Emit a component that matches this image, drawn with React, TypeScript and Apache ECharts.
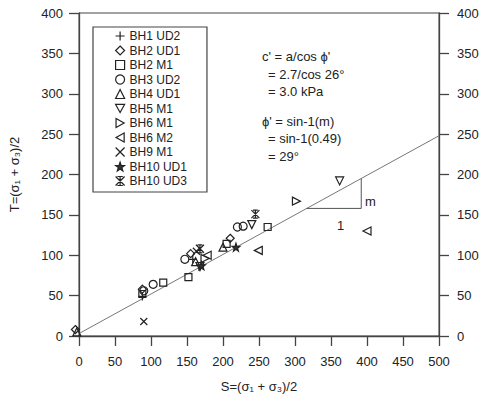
import React, { useEffect, useRef } from "react";
import * as echarts from "echarts";

const xTicks = { min: 0, max: 500, interval: 50 };
const yTicks = { min: 0, max: 400, interval: 50 };

const seriesNames = [
  "BH1 UD2",
  "BH2 UD1",
  "BH2 M1",
  "BH3 UD2",
  "BH4 UD1",
  "BH5 M1",
  "BH6 M1",
  "BH6 M2",
  "BH9 M1",
  "BH10 UD1",
  "BH10 UD3",
];

const bh1UD2 = [[88, 49], [158, 95]];
const bh2UD1 = [[-5, 8], [88, 58], [155, 102], [210, 121]];
const bh2M1 = [[88, 52], [117, 66], [152, 73], [205, 114], [262, 135]];
const bh3UD2 = [[90, 56], [103, 64], [147, 95], [220, 135], [228, 136]];
const bh4UD1 = [[-3, 5], [162, 92], [200, 110]];
const bh5M1 = [[168, 86], [240, 138], [362, 192]];
const bh6M1 = [[175, 96], [302, 167]];
const bh6M2 = [[178, 100], [249, 106], [400, 130]];
const bh9M1 = [[90, 18], [163, 105]];
const bh10UD1 = [[170, 87], [218, 110]];
const bh10UD3 = [[168, 108], [245, 151]];

const fitLine = [[0, 3], [500, 248]];
const slopeTriangle = [[316, 158], [392, 158], [392, 195]];

const annotationLines = [
  "c' = a/cos \u03d5'",
  "= 2.7/cos 26\u00b0",
  "= 3.0 kPa",
  "\u03d5' = sin-1(m)",
  "= sin-1(0.49)",
  "= 29\u00b0",
];

const seriesData = [bh1UD2, bh2UD1, bh2M1, bh3UD2, bh4UD1, bh5M1, bh6M1, bh6M2, bh9M1, bh10UD1, bh10UD3];

const symbols = [
  "path://M5,0L5,10M0,5L10,5",
  "diamond",
  "rect",
  "circle",
  "triangle",
  "path://M0,0L10,0L5,9Z",
  "path://M0,0L9,5L0,10Z",
  "path://M9,0L0,5L9,10Z",
  "path://M0,0L10,10M10,0L0,10",
  "path://M5,0L6.2,3.6L10,3.8L7,6.1L8.1,9.8L5,7.6L1.9,9.8L3,6.1L0,3.8L3.8,3.6Z",
  "path://M0,0L10,10M10,0L0,10M5,0L5,10M2,0L8,0M2,10L8,10",
];

const symbolSizes = [8, 8, 7, 8, 8, 8, 8, 8, 7, 8, 8];

export default function App() {
  const ref = useRef<HTMLDivElement>(null);

  useEffect(() => {
    if (!ref.current) return;
    const chart = echarts.init(ref.current, undefined, { renderer: "svg" });
    const font = "Liberation Sans, Arial, sans-serif";
    const ink = "#222";

    const scatterSeries = seriesNames.map((name, i) => ({
      name,
      type: "scatter",
      data: seriesData[i],
      symbol: symbols[i],
      symbolSize: symbolSizes[i],
      clip: false,
      itemStyle: {
        color: i === 9 ? "#333" : "rgba(0,0,0,0)",
        borderColor: ink,
        borderWidth: 1.2,
        opacity: 1,
      },
      z: 5,
    }));

    const annoY = [57, 75, 92, 122, 139, 157];
    const annoX = [262, 268, 268, 262, 268, 268];

    chart.setOption({
      animation: false,
      textStyle: { fontFamily: font },
      grid: {
        left: 78,
        right: 43,
        top: 13,
        bottom: 59,
        show: true,
        borderColor: "#444",
        borderWidth: 1,
        backgroundColor: "transparent",
      },
      xAxis: {
        type: "value",
        min: xTicks.min,
        max: xTicks.max,
        interval: xTicks.interval,
        name: "S=(\u03c3\u2081 + \u03c3\u2083)/2",
        nameLocation: "middle",
        nameGap: 44,
        nameTextStyle: { fontSize: 13, color: ink, fontFamily: font },
        axisLine: { show: true, lineStyle: { color: "#444", width: 1.3 } },
        axisTick: { show: true, length: 10, lineStyle: { color: "#444", width: 1.3 } },
        axisLabel: { fontSize: 13, color: ink, margin: 19, fontFamily: font },
        splitLine: { show: false },
      },
      yAxis: [
        {
          type: "value",
          position: "left",
          min: yTicks.min,
          max: yTicks.max,
          interval: yTicks.interval,
          name: "T=(\u03c3\u2081 + \u03c3\u2083)/2",
          nameLocation: "middle",
          nameGap: 58,
          nameRotate: 90,
          nameTextStyle: { fontSize: 13, color: ink, fontFamily: font },
          axisLine: { show: true, lineStyle: { color: "#444", width: 1.3 } },
          axisTick: { show: true, length: 10, lineStyle: { color: "#444", width: 1.3 } },
          axisLabel: { fontSize: 13, color: ink, margin: 16, fontFamily: font },
          splitLine: { show: false },
        },
        {
          type: "value",
          position: "right",
          min: yTicks.min,
          max: yTicks.max,
          interval: yTicks.interval,
          axisLine: { show: true, lineStyle: { color: "#444", width: 1.3 } },
          axisTick: { show: true, length: 10, lineStyle: { color: "#444", width: 1.3 } },
          axisLabel: { fontSize: 13, color: ink, margin: 18, fontFamily: font },
          splitLine: { show: false },
        },
      ],
      legend: {
        data: seriesNames,
        orient: "vertical",
        left: 93,
        top: 27,
        padding: [3, 20, 5, 22],
        itemWidth: 9,
        itemHeight: 9,
        itemGap: 2.5,
        borderColor: "#444",
        borderWidth: 1.2,
        backgroundColor: "#fff",
        textStyle: { fontSize: 12, color: ink, fontFamily: font, lineHeight: 12 },
        itemStyle: { borderWidth: 1.2 },
        selectedMode: false,
      },
      series: [
        {
          name: "fit",
          type: "line",
          data: fitLine,
          showSymbol: false,
          symbol: "none",
          lineStyle: { color: "#777", width: 1 },
          z: 2,
          silent: true,
        },
        {
          name: "slope",
          type: "line",
          data: slopeTriangle,
          showSymbol: false,
          symbol: "none",
          lineStyle: { color: "#555", width: 1 },
          z: 2,
          silent: true,
        },
        ...scatterSeries,
      ],
      graphic: [
        ...annotationLines.map((t, i) => ({
          type: "text",
          left: annoX[i],
          top: annoY[i] - 7,
          style: { text: t, font: `13px ${font}`, fill: ink },
        })),
        {
          type: "text",
          left: 365,
          top: 195,
          style: { text: "m", font: `13px ${font}`, fill: ink },
        },
        {
          type: "text",
          left: 337,
          top: 219,
          style: { text: "1", font: `13px ${font}`, fill: ink },
        },
      ],
    });
    return () => chart.dispose();
  }, []);

  return (
    <div
      ref={ref}
      style={{ position: "fixed", left: 0, top: 0, width: 482, height: 398, background: "#fff" }}
    />
  );
}
